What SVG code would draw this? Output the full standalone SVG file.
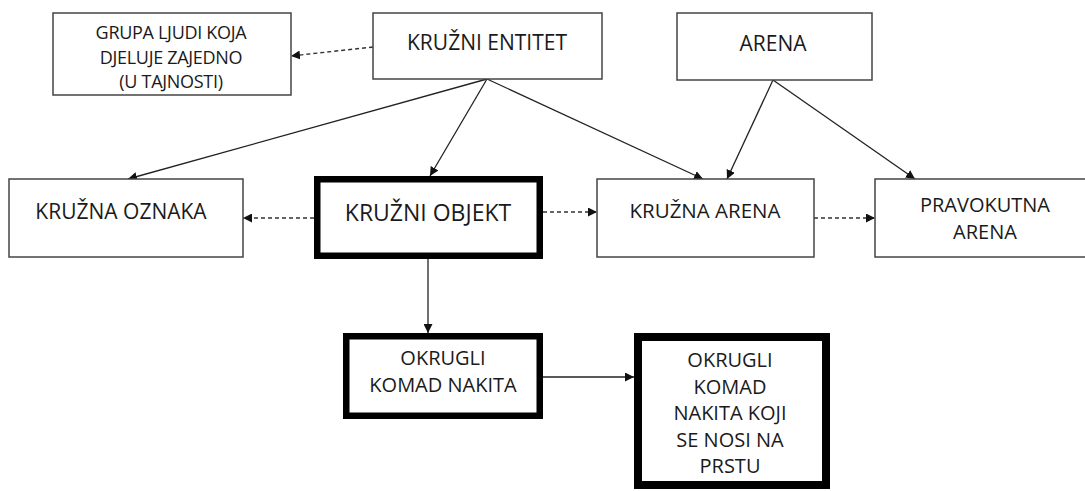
<svg xmlns="http://www.w3.org/2000/svg" width="1085" height="491" viewBox="0 0 1085 491">
<style>
.box{fill:#fff;stroke:#444;stroke-width:1.5}
.thick{fill:#fff;stroke:#000;stroke-width:6.5}
.thicker{fill:#fff;stroke:#000;stroke-width:8}
text{font-family:"Open Sans","Liberation Sans",sans-serif;fill:#1a1a1a;text-anchor:middle}
.s{stroke:#222;stroke-width:1.3;fill:none}
.d{stroke:#333;stroke-width:1.4;fill:none;stroke-dasharray:4 3}
</style>
<defs>
<marker id="ah" viewBox="0 0 10 10" refX="10" refY="5" markerWidth="9" markerHeight="9" markerUnits="userSpaceOnUse" orient="auto">
<path d="M0,0 L10,5 L0,10 z" fill="#111"/>
</marker>
</defs>
<rect width="1085" height="491" fill="#fff"/>
<g id="connectors">
<line class="d" x1="373" y1="47" x2="291" y2="56" marker-end="url(#ah)"/>
<line class="s" x1="487" y1="79" x2="128" y2="179" marker-end="url(#ah)"/>
<line class="s" x1="487" y1="79" x2="430" y2="176" marker-end="url(#ah)"/>
<line class="s" x1="487" y1="79" x2="703" y2="179" marker-end="url(#ah)"/>
<line class="s" x1="773" y1="80" x2="727" y2="179" marker-end="url(#ah)"/>
<line class="s" x1="773" y1="80" x2="915" y2="179" marker-end="url(#ah)"/>
<line class="d" x1="314" y1="218" x2="243" y2="218" marker-end="url(#ah)"/>
<line class="d" x1="543" y1="212" x2="597" y2="212" marker-end="url(#ah)"/>
<line class="d" x1="814" y1="218" x2="875" y2="218" marker-end="url(#ah)"/>
<line class="s" x1="428" y1="259" x2="428" y2="333" marker-end="url(#ah)"/>
<line class="s" x1="543" y1="377" x2="634" y2="377" marker-end="url(#ah)"/>
</g>
<g id="grupa">
<rect class="box" x="53" y="13" width="238" height="82"/>
<text x="171" y="39" font-size="18" letter-spacing="-0.3">GRUPA LJUDI KOJA</text>
<text x="171" y="64" font-size="18" letter-spacing="-0.3">DJELUJE ZAJEDNO</text>
<text x="171" y="88" font-size="18" letter-spacing="-0.3">(U TAJNOSTI)</text>
</g>
<g id="kruzni-entitet">
<rect class="box" x="373" y="13" width="229" height="66"/>
<text x="487" y="50" font-size="21">KRUŽNI ENTITET</text>
</g>
<g id="arena">
<rect class="box" x="677" y="13" width="195" height="67"/>
<text x="773" y="51" font-size="21">ARENA</text>
</g>
<g id="kruzna-oznaka">
<rect class="box" x="9" y="179" width="234" height="78"/>
<text x="121" y="219" font-size="21">KRUŽNA OZNAKA</text>
</g>
<g id="kruzni-objekt">
<rect class="thick" x="317.25" y="179.25" width="222.5" height="76.5"/>
<text x="428" y="221" font-size="23">KRUŽNI OBJEKT</text>
</g>
<g id="kruzna-arena">
<rect class="box" x="597" y="179" width="217" height="78"/>
<text x="705" y="218" font-size="20.5">KRUŽNA ARENA</text>
</g>
<g id="pravokutna-arena">
<rect class="box" x="875" y="179" width="220" height="78"/>
<text x="985" y="212" font-size="20">PRAVOKUTNA</text>
<text x="985" y="239" font-size="20">ARENA</text>
</g>
<g id="okrugli-komad">
<rect class="thick" x="346.25" y="336.25" width="193.5" height="79.5"/>
<text x="443" y="365" font-size="20">OKRUGLI</text>
<text x="443" y="392" font-size="20">KOMAD NAKITA</text>
</g>
<g id="okrugli-prsten">
<rect class="thicker" x="638" y="337" width="188" height="148"/>
<text x="730" y="367" font-size="20">OKRUGLI</text>
<text x="730" y="394" font-size="20">KOMAD</text>
<text x="730" y="420" font-size="20">NAKITA KOJI</text>
<text x="730" y="447" font-size="20">SE NOSI NA</text>
<text x="730" y="473" font-size="20">PRSTU</text>
</g>
</svg>
